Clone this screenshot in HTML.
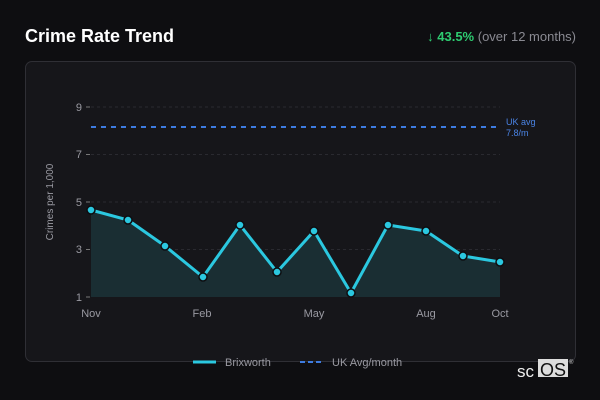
<!DOCTYPE html>
<html><head><style>
body{margin:0;width:600px;height:400px;background:#0e0e11;font-family:"Liberation Sans","DejaVu Sans",sans-serif;overflow:hidden;position:relative}
.t{position:absolute;left:25px;top:26px;color:#fff;font-weight:bold;font-size:18px}
.s{position:absolute;right:24px;top:29px;color:#8a8a92;font-size:13px}
.s b{color:#2ecc71}
.p{position:absolute;left:25px;top:61px;width:549px;height:299px;border:1px solid #2f2f35;border-radius:7px;background:#16161a}
svg{position:absolute;left:0;top:0}
</style></head><body>
<div class="t">Crime Rate Trend</div>
<div class="s"><b>↓ 43.5%</b> (over 12 months)</div>
<div class="p"></div>
<svg width="600" height="400" font-family="Liberation Sans, DejaVu Sans, sans-serif">
<g stroke="#2a2a30" stroke-dasharray="3,3" stroke-width="1">
<line x1="91" x2="500" y1="107" y2="107"/><line x1="91" x2="500" y1="154.5" y2="154.5"/><line x1="91" x2="500" y1="202" y2="202"/><line x1="91" x2="500" y1="249.5" y2="249.5"/>
</g>
<g stroke="#777" stroke-width="1">
<line x1="86" x2="90" y1="107" y2="107"/><line x1="86" x2="90" y1="154.5" y2="154.5"/><line x1="86" x2="90" y1="202" y2="202"/><line x1="86" x2="90" y1="249.5" y2="249.5"/><line x1="86" x2="90" y1="297" y2="297"/>
</g>
<g fill="#9a9aa2" font-size="11" text-anchor="end">
<text x="82" y="111">9</text><text x="82" y="158">7</text><text x="82" y="206">5</text><text x="82" y="253">3</text><text x="82" y="301">1</text>
</g>
<g fill="#9a9aa2" font-size="11" text-anchor="middle">
<text x="91" y="317">Nov</text><text x="202" y="317">Feb</text><text x="314" y="317">May</text><text x="426" y="317">Aug</text><text x="500" y="317">Oct</text>
</g>
<text transform="translate(53,202) rotate(-90)" fill="#9a9aa2" font-size="10" text-anchor="middle">Crimes per 1,000</text>
<line x1="91" x2="500" y1="127" y2="127" stroke="#3d7be0" stroke-width="2" stroke-dasharray="5,5"/>
<text x="506" y="125" fill="#4a84e6" font-size="9">UK avg</text>
<text x="506" y="136" fill="#4a84e6" font-size="9">7.8/m</text>
<path d="M91,210 L128,220 L165,246 L203,277 L240,225 L277,272 L314,231 L351,293 L388,225 L426,231 L463,256 L500,262 L500,297 L91,297Z" fill="#1a2e33"/>
<polyline points="91,210 128,220 165,246 203,277 240,225 277,272 314,231 351,293 388,225 426,231 463,256 500,262" fill="none" stroke="#2bc8e0" stroke-width="3" stroke-linejoin="round"/>
<g fill="#2bc8e0" stroke="#0e0e11" stroke-width="1.5">
<circle cx="91" cy="210" r="4"/><circle cx="128" cy="220" r="4"/><circle cx="165" cy="246" r="4"/><circle cx="203" cy="277" r="4"/><circle cx="240" cy="225" r="4"/><circle cx="277" cy="272" r="4"/><circle cx="314" cy="231" r="4"/><circle cx="351" cy="293" r="4"/><circle cx="388" cy="225" r="4"/><circle cx="426" cy="231" r="4"/><circle cx="463" cy="256" r="4"/><circle cx="500" cy="262" r="4"/>
</g>
<line x1="193" x2="216" y1="362" y2="362" stroke="#2bc8e0" stroke-width="3"/>
<text x="225" y="366" fill="#9a9aa2" font-size="11">Brixworth</text>
<line x1="300" x2="324" y1="362" y2="362" stroke="#3d7be0" stroke-width="2" stroke-dasharray="5,3"/>
<text x="332" y="366" fill="#9a9aa2" font-size="11">UK Avg/month</text>
<text x="517" y="377" fill="#eee" font-size="17">sc</text>
<rect x="538" y="359" width="30" height="18" fill="#ddd"/>
<text x="540" y="376" fill="#111" font-size="18">OS</text>
<text x="569" y="364" fill="#ccc" font-size="6">®</text>
</svg>
</body></html>
